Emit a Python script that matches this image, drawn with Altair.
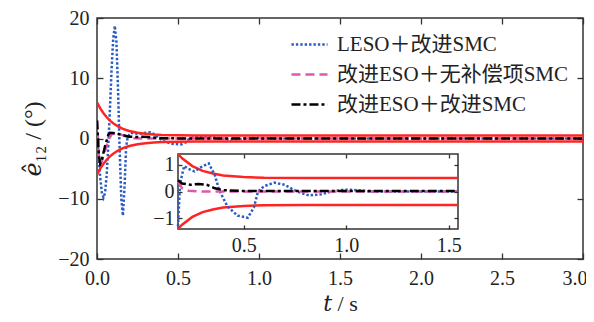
import altair as alt
import pandas as pd

# ---------------- data ----------------
SERIES = ["LESO＋改进SMC", "改进ESO＋无补偿项SMC", "改进ESO＋改进SMC"]
COLORS = ["#2b5cc2", "#e058ae", "#000000"]
DASHES = [[2.4, 2.0], [9, 5], [9, 3, 3, 3]]

T_BLUE = [0, 0.01, 0.02, 0.03, 0.04, 0.05, 0.06, 0.07, 0.08, 0.09, 0.10, 0.11, 0.12,
          0.13, 0.14, 0.15, 0.16, 0.17, 0.18, 0.19, 0.21, 0.23, 0.26, 0.29, 0.33, 0.36,
          0.38, 0.42, 0.47, 0.52, 0.55, 0.57, 0.60, 0.65, 0.70, 0.76, 0.82, 0.88, 0.93,
          0.99, 1.05, 1.12, 3.0]
V_BLUE = [0, -3, -6.5, -9, -9.8, -9, -6, -1, 5, 11.5, 16.5, 18.7, 16,
          8, -2, -10, -12.8, -8, -1.3, 0.3, 0.95, 0.85, 0.75, 0.9, 1.05, 0.6,
          0.07, -0.55, -0.9, -0.98, -0.6, 0.0, 0.2, 0.33, 0.25, 0.0, -0.15, -0.1, 0.0,
          0.07, 0.05, 0.0, 0.0]

T_PINK = [0, 0.005, 0.012, 0.02, 0.03, 0.05, 0.07, 0.09, 0.11, 0.14, 0.18, 0.20, 0.23, 0.30, 3.0]
V_PINK = [3.0, 0.5, -3.0, -4.2, -3.8, -2.0, -0.3, 0.7, 0.85, 0.7, 0.38, 0.12, 0.03, 0.0, 0.0]

T_BLACK = [0, 0.005, 0.012, 0.02, 0.03, 0.05, 0.07, 0.08, 0.10, 0.13, 0.16, 0.18, 0.20,
           0.24, 0.28, 0.32, 0.36, 0.40, 0.50, 3.0]
V_BLACK = [3.0, 0.5, -3.0, -4.2, -3.5, -1.2, 0.6, 0.95, 0.9, 0.75, 0.55, 0.42, 0.30,
           0.25, 0.28, 0.25, 0.12, 0.05, 0.02, 0.02]

T_ENV = [0, 0.02, 0.04, 0.06, 0.08, 0.10, 0.13, 0.16, 0.18, 0.20, 0.25, 0.30, 0.35,
         0.40, 0.50, 0.60, 0.80, 3.0]
V_UP = [6.0, 5.0, 4.19, 3.52, 2.97, 2.52, 2.0, 1.61, 1.41, 1.24, 0.95, 0.77, 0.67,
        0.60, 0.54, 0.51, 0.50, 0.50]
V_LO = [-6.0, -5.0, -4.19, -3.52, -2.97, -2.52, -2.0, -1.61, -1.41, -1.24, -0.95, -0.77, -0.67,
        -0.60, -0.54, -0.51, -0.50, -0.50]

MAIN_X = [0, 3]
MAIN_Y = [-20, 20]
MAIN_XT = [0, 0.5, 1.0, 1.5, 2.0, 2.5, 3.0]
MAIN_YT = [-20, -10, 0, 10, 20]
INSET_X = [0.18, 1.545]
INSET_Y = [-1.4, 1.4]
INSET_XT = [0.5, 1.0, 1.5]
INSET_YT = [-1, 0, 1]

# ---------------- tables ----------------
rows = []
for name, ts, vs in zip(SERIES, [T_BLUE, T_PINK, T_BLACK], [V_BLUE, V_PINK, V_BLACK]):
    for t, v in zip(ts, vs):
        rows.append({"t": t, "v": v, "s": name})
df = pd.DataFrame(rows)

env = pd.DataFrame(
    [{"t": t, "v": v, "side": "up"} for t, v in zip(T_ENV, V_UP)]
    + [{"t": t, "v": v, "side": "lo"} for t, v in zip(T_ENV, V_LO)]
)
box = pd.DataFrame([{"x0": INSET_X[0], "x1": INSET_X[1], "y0": INSET_Y[0], "y1": INSET_Y[1]}])

# ---------------- layout / style ----------------
W, H = 486, 241
IX = [81, 361]
IY = [211, 136]
TK, ITK = 6, 4
FONT = "Liberation Serif, Noto Sans CJK SC, DejaVu Serif"
FRAME = "#333333"
RED = "#ff2424"
LAST_X = MAIN_XT[-1]

def ax(**kw):
    d = dict(labelFont=FONT, labelFontSize=20, labelColor="#222222", tickColor=FRAME,
             tickWidth=1.3, domain=False, grid=False, labelFlush=False)
    d.update(kw)
    return alt.Axis(**d)

leg = alt.Legend(orient="none", legendX=193, legendY=7, title=None, symbolType="stroke",
                 symbolSize=1300, symbolStrokeWidth=2.6, labelFont=FONT, labelFontSize=21,
                 labelColor="#222222", rowPadding=-10, padding=0, labelOffset=8, labelLimit=600)
color = alt.Color("s:N", scale=alt.Scale(domain=SERIES, range=COLORS), legend=leg)
dash = alt.StrokeDash("s:N", scale=alt.Scale(domain=SERIES, range=DASHES), legend=leg)

mx = alt.Scale(domain=MAIN_X, nice=False, zero=False)
my = alt.Scale(domain=MAIN_Y, nice=False, zero=False)

series_main = alt.Chart(df).mark_line(strokeWidth=2.5, clip=True, strokeCap="butt").encode(
    x=alt.X("t:Q", scale=mx, axis=ax(
        orient="bottom", values=MAIN_XT, format=".1f", tickSize=TK, offset=-TK, labelPadding=9,
        labelAlign=alt.condition(f"datum.value == {LAST_X}", alt.value("right"), alt.value("center")),
        labelOffset=alt.condition(f"datum.value == {LAST_X}", alt.value(4), alt.value(0)),
        title="𝑡 / s", titleFont=FONT, titleFontSize=22, titleFontWeight="normal",
        titlePadding=5, titleColor="#222222")),
    y=alt.Y("v:Q", scale=my, axis=ax(orient="left", values=MAIN_YT, tickSize=TK, offset=-TK,
                                     labelPadding=8, title="𝑒̂₁₂ / (°)", titleFont=FONT,
                                     titleFontSize=24, titleFontWeight="normal", titlePadding=12,
                                     titleColor="#222222")),
    color=color,
    strokeDash=dash,
)

env_main = alt.Chart(env).mark_line(color=RED, strokeWidth=2.5, clip=True).encode(
    x=alt.X("t:Q", scale=mx, axis=ax(orient="top", values=MAIN_XT, labels=False, tickSize=TK,
                                     offset=-TK, title=None)),
    y=alt.Y("v:Q", scale=my, axis=ax(orient="right", values=MAIN_YT, labels=False, tickSize=TK,
                                     offset=-TK, title=None)),
    detail="side:N",
)

main = alt.layer(series_main, env_main).resolve_axis(x="independent", y="independent")

ixs = alt.Scale(domain=INSET_X, range=IX, nice=False, zero=False, clamp=True)
iys = alt.Scale(domain=INSET_Y, range=IY, nice=False, zero=False, clamp=True)

inset_box = alt.Chart(box).mark_rect(fill="white", stroke=FRAME, strokeWidth=1.5).encode(
    x=alt.X("x0:Q", scale=ixs, axis=ax(orient="bottom", values=INSET_XT, format=".1f",
                                       tickSize=ITK, offset=(IY[0] - ITK) - H, labelPadding=6,
                                       title=None, zindex=2)),
    x2="x1:Q",
    y=alt.Y("y0:Q", scale=iys, axis=ax(orient="left", values=INSET_YT, tickSize=ITK,
                                       offset=-(IX[0] + ITK), labelPadding=4, title=None,
                                       zindex=2)),
    y2="y1:Q",
)

inset_env = alt.Chart(env).transform_filter(alt.datum.t >= INSET_X[0]).mark_line(
    color=RED, strokeWidth=2.5).encode(
    x=alt.X("t:Q", scale=ixs, axis=ax(orient="top", values=INSET_XT, labels=False, tickSize=ITK,
                                      offset=-(IY[1] + ITK), title=None, zindex=2)),
    y=alt.Y("v:Q", scale=iys, axis=ax(orient="right", values=INSET_YT, labels=False,
                                      tickSize=ITK, offset=(IX[1] - ITK) - W, title=None,
                                      zindex=2)),
    detail="side:N",
)

inset_series = alt.Chart(df).transform_filter(alt.datum.t >= INSET_X[0]).mark_line(
    strokeWidth=2.5, strokeCap="butt").encode(
    x=alt.X("t:Q", scale=ixs, axis=None),
    y=alt.Y("v:Q", scale=iys, axis=None),
    color=color,
    strokeDash=dash,
)

inset = alt.layer(inset_box, inset_env, inset_series).resolve_axis(x="independent", y="independent")

chart = alt.layer(main, inset).resolve_scale(x="independent", y="independent").properties(
    width=W, height=H,
    autosize=alt.AutoSizeParams(type="none"),
    padding={"left": 89, "top": 10, "right": 3, "bottom": 60},
).configure_view(stroke=FRAME, strokeWidth=1.5)

chart.save("out.html", embed_options={"renderer": "svg", "actions": False})
